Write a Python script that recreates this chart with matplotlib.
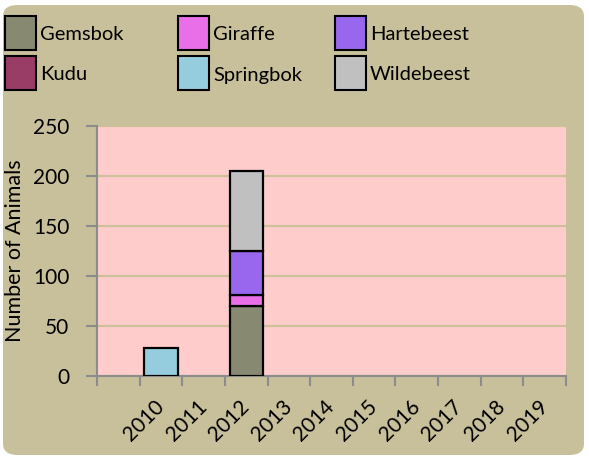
import matplotlib
matplotlib.use("Agg")
import matplotlib.pyplot as plt
from matplotlib.patches import FancyBboxPatch, Rectangle
import numpy as np

plt.rcParams['font.family'] = ['Lato', 'DejaVu Sans']

categories = ['', '2010', '2011', '2012', '2013', '2014', '2015', '2016', '2017', '2018', '2019']
series_names = ['Gemsbok', 'Giraffe', 'Hartebeest', 'Kudu', 'Springbok', 'Wildebeest']
gemsbok    = [0, 0, 0, 70, 0, 0, 0, 0, 0, 0, 0]
giraffe    = [0, 0, 0, 11, 0, 0, 0, 0, 0, 0, 0]
hartebeest = [0, 0, 0, 44, 0, 0, 0, 0, 0, 0, 0]
kudu       = [0, 0, 0, 0, 0, 0, 0, 0, 0, 0, 0]
springbok  = [0, 28, 0, 0, 0, 0, 0, 0, 0, 0, 0]
wildebeest = [0, 0, 0, 80, 0, 0, 0, 0, 0, 0, 0]
series_values = [gemsbok, giraffe, hartebeest, kudu, springbok, wildebeest]
colors = ['#878A70', '#E86FE8', '#9966EE', '#993D66', '#96CDDE', '#C0C0C0']
y_ticks = [0, 50, 100, 150, 200, 250]

W, H = 589, 458
fig = plt.figure(figsize=(W / 100, H / 100), dpi=100)
fig.patch.set_facecolor('white')
bg = FancyBboxPatch((3 / W, 3 / H), 1 - 8 / W, 1 - 8 / H,
                    boxstyle="round,pad=0,rounding_size=0.025",
                    transform=fig.transFigure, facecolor='#C8C09A',
                    edgecolor='none', zorder=-10)
fig.patches.append(bg)

ax = fig.add_axes([97 / W, 1 - 376 / H, (566 - 97) / W, (376 - 126) / H])
ax.set_facecolor('#FFCCCC')

x = np.arange(len(categories))
bottom = np.zeros(len(categories))
for name, vals, c in zip(series_names, series_values, colors):
    v = np.array(vals, dtype=float)
    mask = v > 0
    ax.bar(x[mask], v[mask], bottom=bottom[mask], width=0.78, color=c,
           edgecolor='black', linewidth=1.6, zorder=3)
    bottom += v

ax.set_ylim(0, 250)
ax.set_xlim(-0.5, len(categories) - 0.5)
ax.set_yticks(y_ticks)
ax.set_yticklabels([str(t) for t in y_ticks], fontsize=15)
ax.yaxis.grid(True, color='#CDBF98', linewidth=1.6, zorder=0)
ax.set_axisbelow(True)

ax.set_xticks(np.arange(len(categories) + 1) - 0.5)
ax.set_xticklabels([])
ax.set_xticks(x, minor=True)
ax.set_xticklabels(categories, minor=True, rotation=45, ha='right',
                   va='center', rotation_mode='anchor', fontsize=15)
ax.tick_params(axis='x', which='minor', length=0, pad=20)
ax.tick_params(axis='x', which='major', length=7, width=1.5, color='#8C8C8C')
ax.tick_params(axis='y', length=8, width=1.5, color='#8C8C8C', pad=12)

for s in ['top', 'right']:
    ax.spines[s].set_visible(False)
for s in ['left', 'bottom']:
    ax.spines[s].set_color('#8C8C8C')
    ax.spines[s].set_linewidth(1.5)

ax.set_ylabel('Number of Animals', fontsize=15.5)
ax.yaxis.set_label_coords(-72 / 469, 0.5)

# legend
col_x = [5, 178, 335]
row_y = [16, 56]
for i, (name, c) in enumerate(zip(series_names, colors)):
    r, cidx = divmod(i, 3)
    px, py = col_x[cidx], row_y[r]
    rect = Rectangle((px / W, 1 - (py + 34) / H), 31 / W, 34 / H,
                     transform=fig.transFigure, facecolor=c,
                     edgecolor='black', linewidth=1.5)
    fig.patches.append(rect)
    fig.text((px + 35) / W, 1 - (py + 19) / H, name, fontsize=14.5,
             ha='left', va='center')

fig.savefig('out.png', dpi=100)
